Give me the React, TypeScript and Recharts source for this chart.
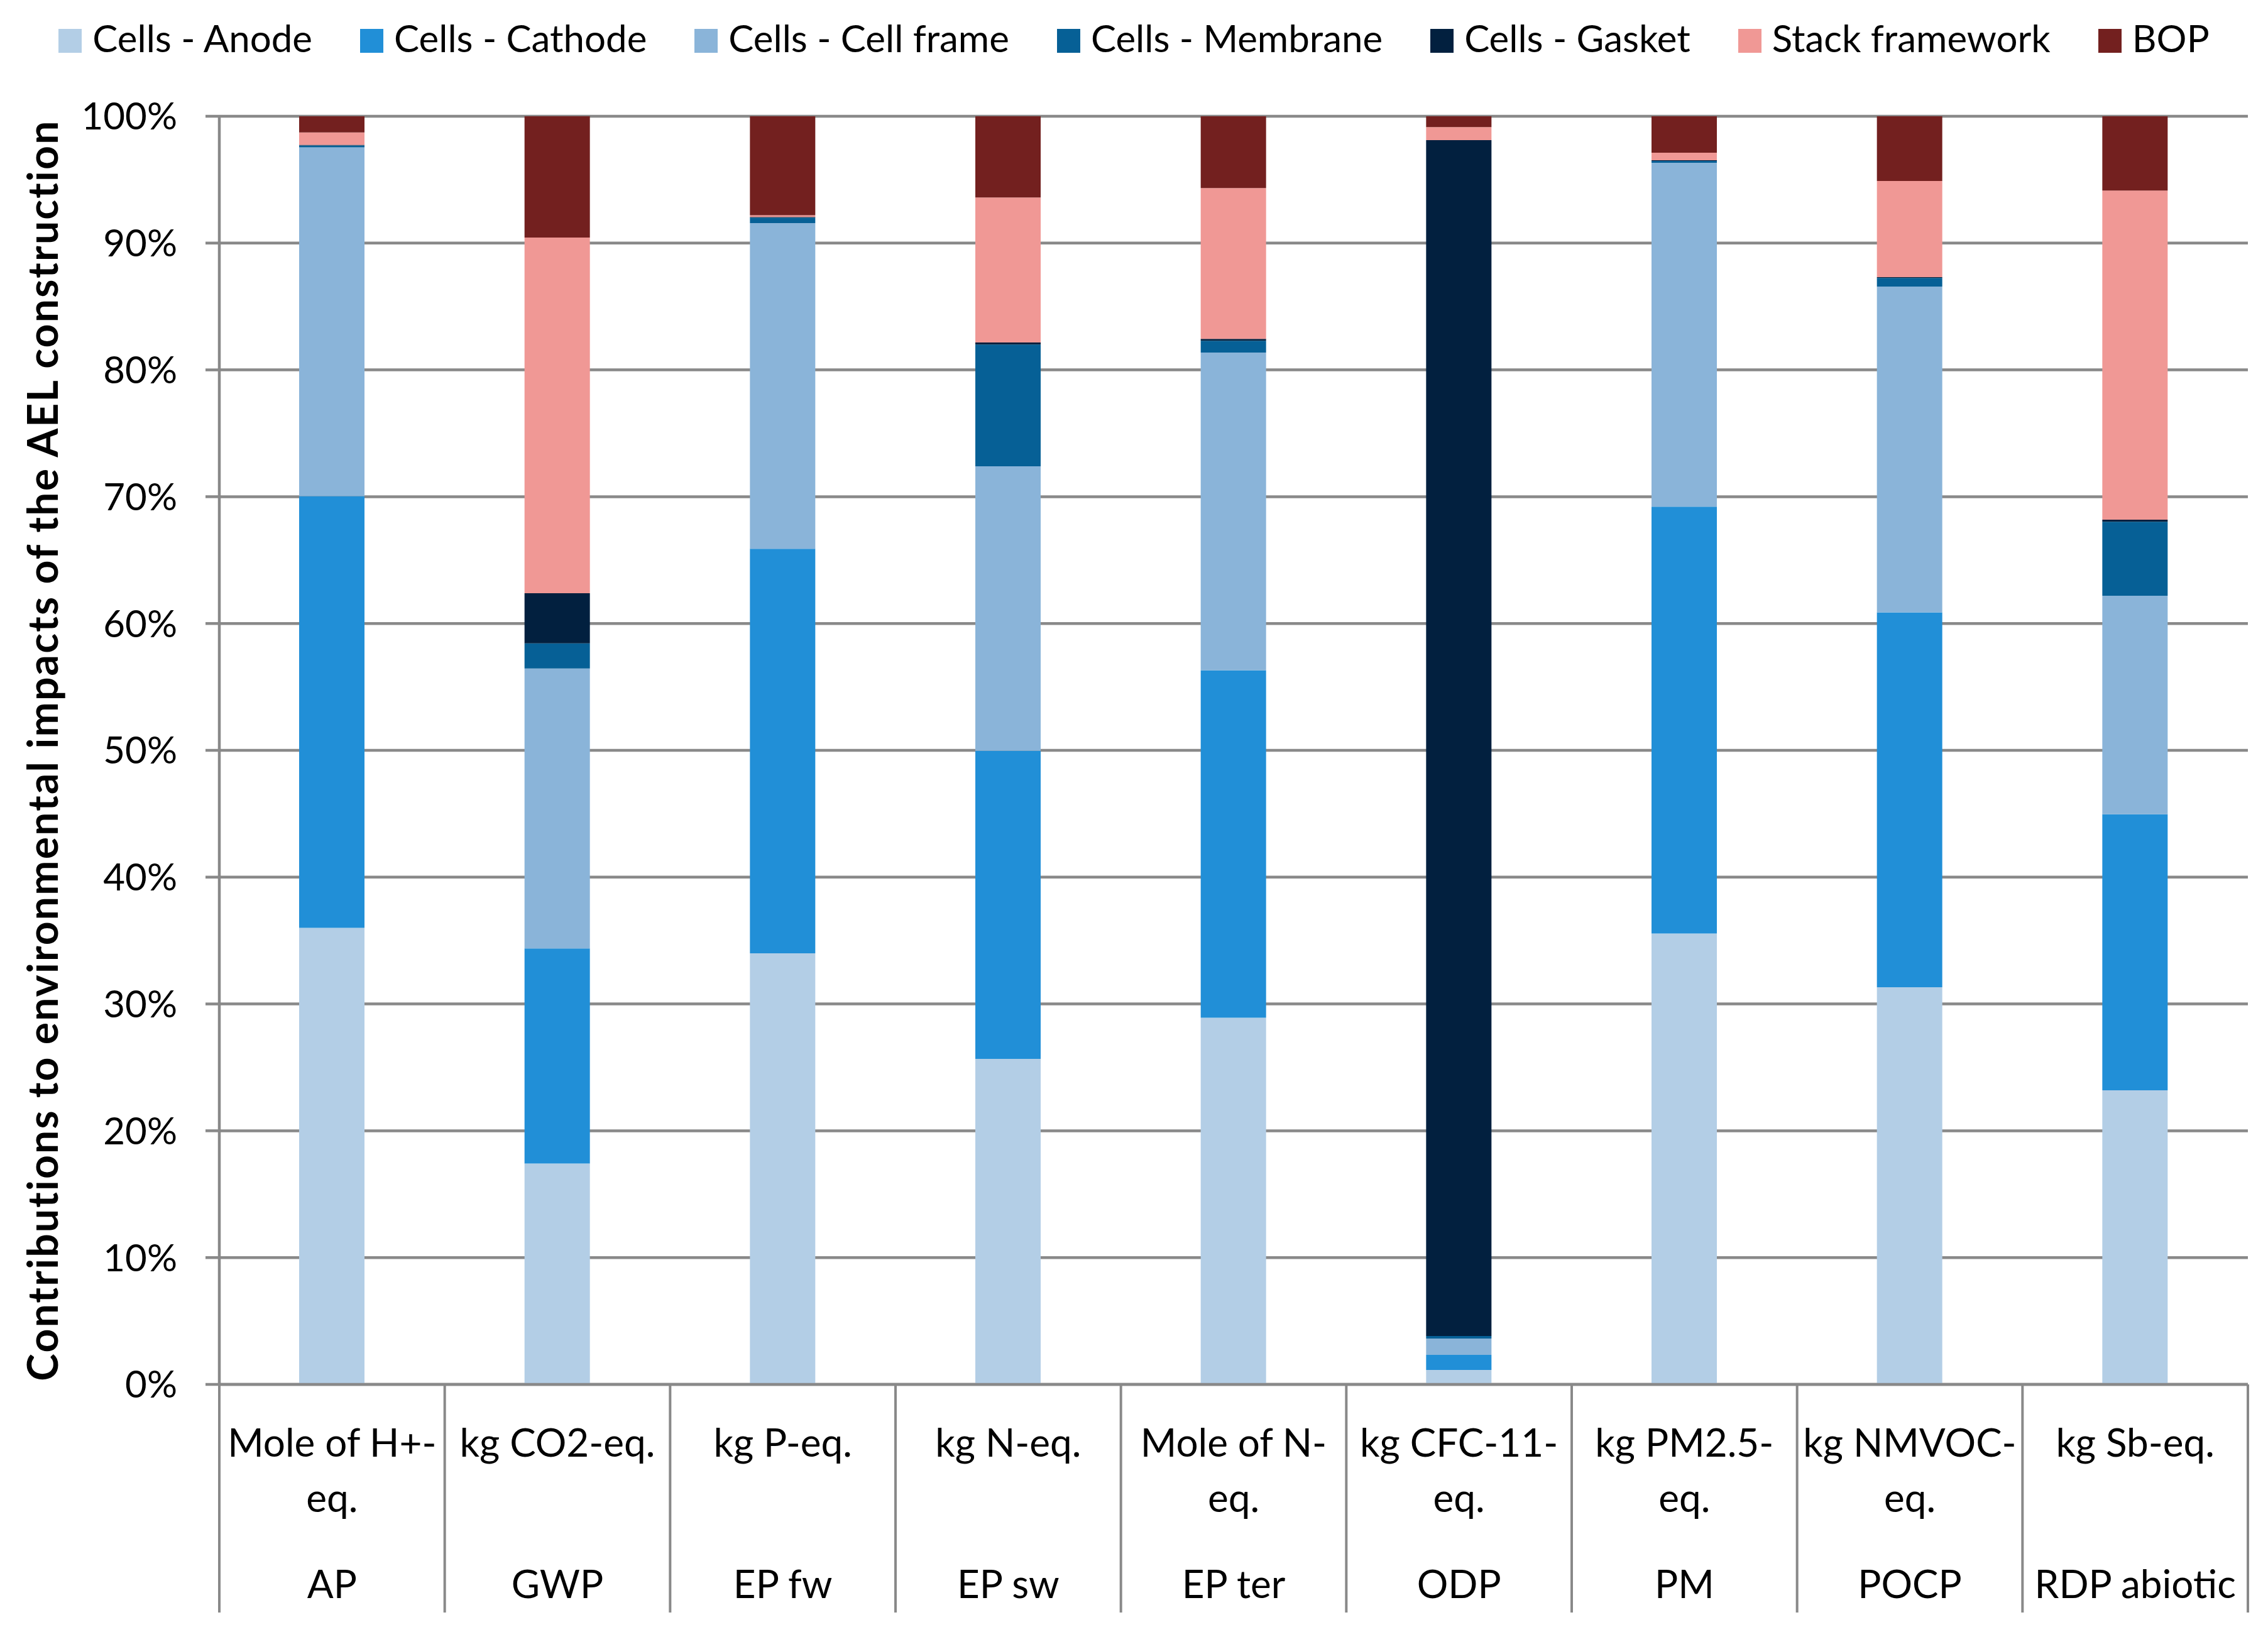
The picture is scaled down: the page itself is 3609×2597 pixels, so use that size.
import { BarChart, Bar, XAxis, YAxis, CartesianGrid, Legend } from 'recharts';

document.body.style.margin = '0';

const W = 3609;
const H = 2597;
const PLOT_LEFT = 349;
const PLOT_RIGHT = 3577;
const PLOT_TOP = 185;
const PLOT_BOTTOM = 2203;
const SEP_BOTTOM = 2566;
const BAND = (PLOT_RIGHT - PLOT_LEFT) / 9;
const GRID = '#898989';
const FONT = 'Lato, "Open Sans", sans-serif';

const CATEGORIES = ['AP', 'GWP', 'EP fw', 'EP sw', 'EP ter', 'ODP', 'PM', 'POCP', 'RDP abiotic'];
const UNITS = [
  ['Mole of H+-', 'eq.'],
  ['kg CO2-eq.'],
  ['kg P-eq.'],
  ['kg N-eq.'],
  ['Mole of N-', 'eq.'],
  ['kg CFC-11-', 'eq.'],
  ['kg PM2.5-', 'eq.'],
  ['kg NMVOC-', 'eq.'],
  ['kg Sb-eq.'],
];

// shares in % per category (AP ... RDP abiotic)
const ANODE = [36.0, 17.42, 34.0, 25.67, 28.92, 1.14, 35.56, 31.32, 23.19];
const CATHODE = [34.05, 16.96, 31.89, 24.29, 27.38, 1.19, 33.66, 29.56, 21.77];
const CELL_FRAME = [27.5, 22.07, 25.69, 22.44, 25.07, 1.29, 27.11, 25.69, 17.23];
const MEMBRANE = [0.15, 1.99, 0.43, 9.6, 0.93, 0.2, 0.15, 0.68, 5.83];
const GASKET = [0.05, 3.95, 0.05, 0.16, 0.15, 94.3, 0.05, 0.06, 0.17];
const STACK = [0.97, 28.05, 0.14, 11.44, 11.89, 1.03, 0.6, 7.59, 25.95];
const BOP = [1.28, 9.56, 7.8, 6.4, 5.66, 0.85, 2.87, 5.1, 5.86];

const Y_TICKS = [0, 0.1, 0.2, 0.3, 0.4, 0.5, 0.6, 0.7, 0.8, 0.9, 1];

const SERIES = [
  { key: 'anode', name: 'Cells - Anode', color: '#B3CEE6', values: ANODE },
  { key: 'cathode', name: 'Cells - Cathode', color: '#218FD7', values: CATHODE },
  { key: 'frame', name: 'Cells - Cell frame', color: '#8AB4D9', values: CELL_FRAME },
  { key: 'membrane', name: 'Cells - Membrane', color: '#066096', values: MEMBRANE },
  { key: 'gasket', name: 'Cells - Gasket', color: '#02203F', values: GASKET },
  { key: 'stack', name: 'Stack framework', color: '#F09895', values: STACK },
  { key: 'bop', name: 'BOP', color: '#73201F', values: BOP },
];

const data = CATEGORIES.map((c, i) => {
  const row: Record<string, any> = { category: c };
  SERIES.forEach((s) => { row[s.key] = s.values[i]; });
  return row;
});

function CategoryTick({ x, payload }: any) {
  const i = payload.index;
  const left = x - BAND / 2;
  const right = x + BAND / 2;
  const txt = { textAnchor: 'middle' as const, fontFamily: FONT, fontSize: 62, fill: '#000' };
  return (
    <g>
      <line x1={left} x2={left} y1={PLOT_BOTTOM} y2={SEP_BOTTOM} stroke={GRID} strokeWidth={4} />
      {i === CATEGORIES.length - 1 && (
        <line x1={right} x2={right} y1={PLOT_BOTTOM} y2={SEP_BOTTOM} stroke={GRID} strokeWidth={4} />
      )}
      {UNITS[i].map((t, k) => (
        <text key={k} x={x} y={2318 + k * 88} {...txt}>{t}</text>
      ))}
      <text x={x} y={2543} {...txt}>{CATEGORIES[i]}</text>
    </g>
  );
}

function YTitle() {
  const cy = (PLOT_TOP + PLOT_BOTTOM) / 2;
  return (
    <text
      x={92}
      y={cy}
      transform={`rotate(-90, 92, ${cy})`}
      textAnchor="middle"
      fontFamily={FONT}
      fontWeight="bold"
      fontSize={66}
      letterSpacing={2.2}
      fill="#000"
    >
      Contributions to environmental impacts of the AEL construction
    </text>
  );
}

function LegendRow() {
  return (
    <div
      style={{
        height: PLOT_TOP,
        display: 'flex',
        justifyContent: 'center',
        alignItems: 'flex-start',
        paddingTop: 25,
        boxSizing: 'border-box',
        fontFamily: FONT,
        fontSize: 60,
        color: '#000',
      }}
    >
      {SERIES.map((s, i) => (
        <div key={s.key} style={{ display: 'flex', alignItems: 'flex-start', marginRight: i < SERIES.length - 1 ? 76 : 0 }}>
          <span style={{ display: 'inline-block', width: 37, height: 38, marginTop: 21, marginRight: 17, background: s.color }} />
          <span style={{ lineHeight: '70px', whiteSpace: 'nowrap' }}>{s.name}</span>
        </div>
      ))}
    </div>
  );
}

export default function App() {
  return (
    <div style={{ width: W, height: H, background: '#fff' }}>
      <BarChart
        width={W}
        height={H}
        data={data}
        stackOffset="expand"
        margin={{ top: 0, right: W - PLOT_RIGHT, bottom: 0, left: 0 }}
      >
        <CartesianGrid vertical={false} stroke={GRID} strokeWidth={4.5} />
        <XAxis
          dataKey="category"
          interval={0}
          height={H - PLOT_BOTTOM}
          tick={<CategoryTick />}
          tickLine={false}
          axisLine={{ stroke: GRID, strokeWidth: 4.5 }}
        />
        <YAxis
          width={PLOT_LEFT}
          domain={[0, 1]}
          ticks={Y_TICKS}
          tickFormatter={(v: number) => `${Math.round(v * 100)}%`}
          tick={{ fill: '#000', fontSize: 60, fontFamily: FONT }}
          tickSize={22}
          tickMargin={45}
          tickLine={{ stroke: GRID, strokeWidth: 4.5 }}
          axisLine={{ stroke: GRID, strokeWidth: 4.5 }}
          label={<YTitle />}
        />
        <Legend
          verticalAlign="top"
          height={PLOT_TOP}
          wrapperStyle={{ left: 0, top: 0, width: W }}
          content={() => <LegendRow />}
        />
        {SERIES.map((s) => (
          <Bar
            key={s.key}
            dataKey={s.key}
            name={s.name}
            stackId="a"
            fill={s.color}
            barSize={104}
            isAnimationActive={false}
          />
        ))}
      </BarChart>
    </div>
  );
}
